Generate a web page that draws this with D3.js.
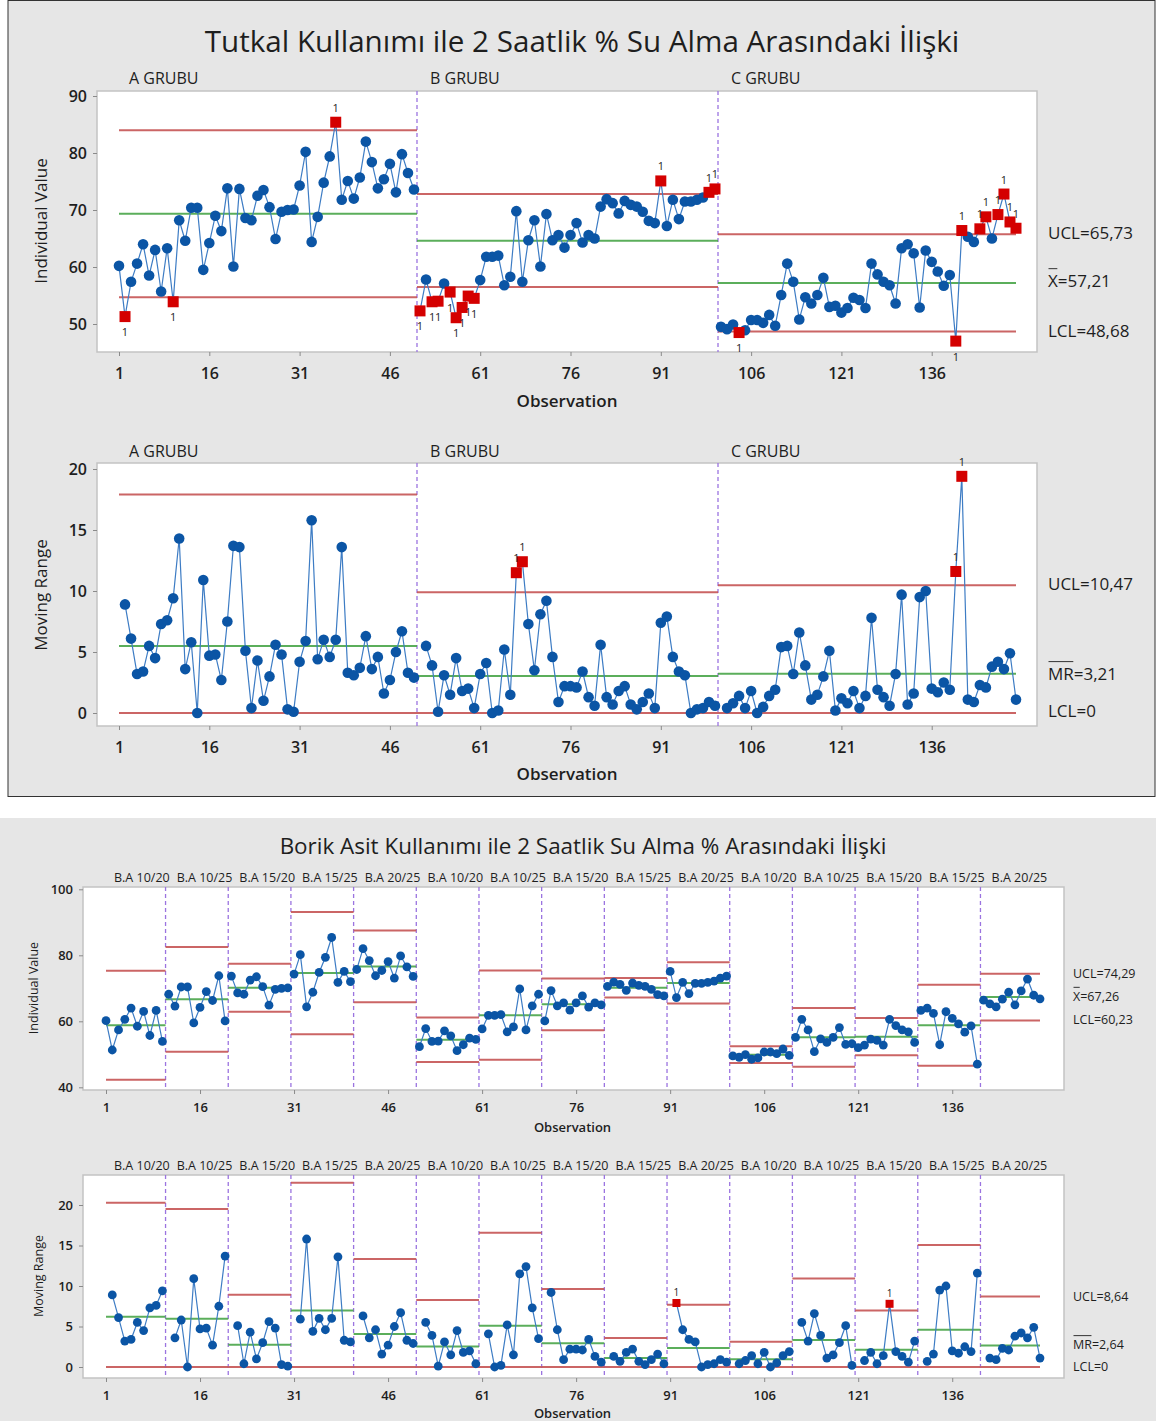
<!DOCTYPE html>
<html><head><meta charset="utf-8">
<script src="https://cdn.jsdelivr.net/npm/d3@7"></script>
<style>
body{margin:0;background:#fff}
svg{display:block}
text{font-family:"Open Sans","Noto Sans",sans-serif;fill:#1e1e1e}
</style>
</head><body>
<svg id="chart" width="1156" height="1421"></svg>
<script>
// ---------------- DATA ----------------
const individualValues = [
  60.2,51.3,57.4,60.6,64.0,58.5,63.0,55.7,63.3,53.9,
  68.2,64.6,70.4,70.4,59.5,64.2,69.0,66.3,73.8,60.1,
  73.7,68.6,68.2,72.5,73.5,70.5,64.9,69.7,70.0,70.1,
  74.3,80.2,64.4,68.8,74.8,79.4,85.4,71.8,75.1,72.0,
  75.7,82.0,78.4,73.8,75.4,78.1,73.1,79.8,76.5,73.6,
  52.3,57.8,53.9,54.0,57.1,55.6,51.1,52.9,54.9,54.5,
  57.7,61.8,61.8,62.0,56.8,58.3,69.8,57.4,64.7,68.2,
  60.1,69.3,64.7,65.6,63.4,65.6,67.7,64.3,65.6,65.0,
  70.6,71.9,71.2,69.4,71.6,70.9,70.6,69.7,68.1,67.7,
  75.1,67.2,71.8,68.4,71.5,71.5,71.8,72.2,73.1,73.7,
  49.5,49.1,49.9,48.5,48.9,50.7,50.7,50.2,51.6,49.7,
  55.1,60.6,57.4,50.8,54.7,53.6,55.1,58.1,53.0,53.2,
  52.0,52.8,54.6,54.2,52.8,60.6,58.7,57.4,56.8,53.6,
  63.3,64.0,62.4,52.9,62.9,60.9,59.2,56.7,58.6,47.0,
  66.4,65.3,64.4,66.7,68.8,65.0,69.2,72.8,67.9,66.8
];
const topTitle = "Tutkal Kullanımı ile 2 Saatlik % Su Alma Arasındaki İlişki";
const bottomTitle = "Borik Asit Kullanımı ile 2 Saatlik Su Alma % Arasındaki İlişki";
const topStageNames = ["A GRUBU","B GRUBU","C GRUBU"];
const topStageSize = 50;
const topUCL = [84.0, 72.8, 65.73];
const topCL  = [69.35, 64.6, 57.21];
const topLCL = [54.7, 56.5, 48.68];
const topMRUCL = [17.9, 9.9, 10.47];
const topMRCL  = [5.5, 3.03, 3.21];
const topMRLCL = [0, 0, 0];
const bottomStageNames = ["B.A 10/20","B.A 10/25","B.A 15/20","B.A 15/25","B.A 20/25",
                          "B.A 10/20","B.A 10/25","B.A 15/20","B.A 15/25","B.A 20/25",
                          "B.A 10/20","B.A 10/25","B.A 15/20","B.A 15/25","B.A 20/25"];
const bottomStageSize = 10;
const xTickValues = [1,16,31,46,61,76,91,106,121,136];
const topIYTicks = [50,60,70,80,90];
const topMRYTicks = [0,5,10,15,20];
const bottomIYTicks = [40,60,80,100];
const bottomMRYTicks = [0,5,10,15,20];
const topILabels  = [["UCL=65,73",65.73,0],["X=57,21",57.21,1],["LCL=48,68",48.68,0]];
const topMRLabels = [["UCL=10,47",10.47,0],["MR=3,21",3.21,2],["LCL=0",0,0]];
const bottomILabels  = [["UCL=74,29",74.29,0],["X=67,26",67.26,1],["LCL=60,23",60.23,0]];
const bottomMRLabels = [["UCL=8,64",8.64,0],["MR=2,64",2.64,2],["LCL=0",0,0]];

// ---------------- HELPERS ----------------
const svg = d3.select("#chart");
const FONT = '"Open Sans","Noto Sans",sans-serif';
const C = {bg:"#e6e6e6", dot:"#0b55a5", line:"#3d7cc4", red:"#d40000",
           lim:"#c65555", cen:"#4aa64a", stage:"#9b74e0", frame:"#c3c3c3"};

function movingRanges(vals, size){
  return vals.map((v,i)=> (i>0 && Math.floor(i/size)===Math.floor((i-1)/size)) ? Math.abs(v-vals[i-1]) : null);
}
function stageStats(vals, mrs, size){
  const n = vals.length/size, out = [];
  for(let s=0;s<n;s++){
    const v = vals.slice(s*size,(s+1)*size);
    const m = mrs.slice(s*size,(s+1)*size).filter(d=>d!==null);
    out.push({mean:d3.mean(v), mr:d3.mean(m)});
  }
  return out;
}
function txt(g,x,y,s,size,anchor="start",weight="normal"){
  return g.append("text").attr("x",x).attr("y",y).attr("font-size",size)
    .attr("text-anchor",anchor).attr("dominant-baseline","central")
    .attr("font-weight",weight).text(s);
}

function drawPanel(cfg){
  const g = svg.append("g");
  const {x0,x1,y0,y1,xs,ys,vals,size,names,ucl,cl,lcl} = cfg;
  const n = names.length;
  g.append("rect").attr("x",x0).attr("y",y0).attr("width",x1-x0).attr("height",y1-y0)
    .attr("fill","#fff").attr("stroke",C.frame).attr("stroke-width",1.5);
  // axes
  const ya = g.append("g").attr("transform",`translate(${x0},0)`)
    .call(d3.axisLeft(ys).tickValues(cfg.yTicks).tickSize(4).tickPadding(cfg.yPad).tickFormat(d3.format("d")));
  const xa = g.append("g").attr("transform",`translate(0,${y1})`)
    .call(d3.axisBottom(xs).tickValues(xTickValues).tickSize(4).tickPadding(cfg.xPad).tickFormat(d3.format("d")));
  [ya,xa].forEach(a=>{
    a.attr("font-family",FONT).attr("font-size",cfg.tickFont);
    a.select(".domain").remove();
    a.selectAll("line").attr("stroke","#8a8a8a");
    a.selectAll("text").attr("fill","#1e1e1e").attr("font-weight",cfg.tickWeight);
  });
  // stage dividers
  for(let s=1;s<n;s++){
    const x = xs(s*size+0.5);
    g.append("line").attr("x1",x).attr("x2",x).attr("y1",y0).attr("y2",y1)
      .attr("stroke",C.stage).attr("stroke-width",1.3).attr("stroke-dasharray","4,3");
  }
  // limit lines
  for(let s=0;s<n;s++){
    const xa1 = s===0 ? xs(1) : xs(s*size+0.5);
    const xb1 = s===n-1 ? xs(vals.length) : xs((s+1)*size+0.5);
    [[ucl[s],C.lim],[lcl[s],C.lim],[cl[s],C.cen]].forEach(([v,c])=>{
      g.append("line").attr("x1",xa1).attr("x2",xb1).attr("y1",ys(v)).attr("y2",ys(v))
        .attr("stroke",c).attr("stroke-width",cfg.limW).attr("opacity",0.9);
    });
  }
  // data
  const pts = vals.map((v,i)=>({i,obs:i+1,v,s:Math.floor(i/size)})).filter(d=>d.v!==null);
  pts.forEach(d=>{ d.out = d.v>ucl[d.s]+1e-9 || d.v<lcl[d.s]-1e-9; });
  const line = d3.line().x(d=>xs(d.obs)).y(d=>ys(d.v));
  for(let s=0;s<n;s++){
    const sp = pts.filter(d=>d.s===s);
    g.append("path").attr("d",line(sp)).attr("fill","none").attr("stroke",C.line).attr("stroke-width",1.2);
  }
  g.selectAll("circle.pt").data(pts.filter(d=>!d.out)).join("circle")
    .attr("cx",d=>xs(d.obs)).attr("cy",d=>ys(d.v)).attr("r",cfg.r).attr("fill",C.dot);
  const outs = pts.filter(d=>d.out);
  g.selectAll("rect.sq").data(outs).join("rect")
    .attr("x",d=>xs(d.obs)-cfg.sq/2).attr("y",d=>ys(d.v)-cfg.sq/2)
    .attr("width",cfg.sq).attr("height",cfg.sq).attr("fill",C.red);
  outs.forEach(d=>{
    const up = d.v>ucl[d.s];
    txt(g, xs(d.obs), ys(d.v) + (up ? -cfg.flagOff : cfg.flagOff), "1", cfg.flagFont, "middle").attr("fill","#333");
  });
  // stage labels
  for(let s=0;s<n;s++){
    txt(g, xs(s*size+1)+cfg.stageOff, y0-cfg.stageDy, names[s], cfg.stageFont, "start");
  }
  // axis titles
  txt(g, (x0+x1)/2 + cfg.obsDx, cfg.obsY, "Observation", cfg.obsFont, "middle", cfg.obsWeight);
  txt(g, 0, 0, cfg.yTitle, cfg.yTitleFont, "middle")
    .attr("transform",`translate(${cfg.yTitleX},${cfg.yTitleY}) rotate(-90)`);
  // right labels
  cfg.rightLabels.forEach(([t,v,bar])=>{
    const y = ys(v) + (cfg.labelDy[t.slice(0,1)]||0);
    const el = txt(g, x1+cfg.labelDx, y, t, cfg.labelFont, "start");
    if(bar){
      const w = el.node().getSubStringLength(0,bar);
      const by = y - cfg.labelFont*0.72;
      g.append("line").attr("x1",x1+cfg.labelDx+0.5).attr("x2",x1+cfg.labelDx+w-0.5)
        .attr("y1",by).attr("y2",by).attr("stroke","#333").attr("stroke-width",1);
    }
  });
}

// ---------------- BACKGROUND ----------------
svg.append("rect").attr("x",8).attr("y",0.5).attr("width",1147).attr("height",796)
  .attr("fill",C.bg).attr("stroke","#333").attr("stroke-width",1);
svg.append("rect").attr("x",0).attr("y",818).attr("width",1156).attr("height",603).attr("fill",C.bg);

// ---------------- TOP CHART ----------------
const tTitle = txt(svg, 582, 40, topTitle, 26, "middle");
(function fit(el,w){ const cw=el.node().getComputedTextLength(); el.attr("font-size",26*w/cw); })(tTitle,755);

const topMR = movingRanges(individualValues, topStageSize);
const xTop = d3.scaleLinear().domain([1,150]).range([119,1016]);

drawPanel({x0:97,x1:1037,y0:91,y1:352,xs:xTop,
  ys:d3.scaleLinear().domain([50,90]).range([324,96]),
  vals:individualValues,size:topStageSize,names:topStageNames,
  ucl:topUCL,cl:topCL,lcl:topLCL,yTicks:topIYTicks,
  tickFont:16,tickWeight:600,yPad:6,xPad:12,limW:2,r:5.3,sq:11,flagFont:11,flagOff:15,
  stageOff:10,stageDy:13,stageFont:16,obsDx:0,obsY:400,obsFont:17,obsWeight:600,
  yTitle:"Individual Value",yTitleFont:17,yTitleX:40,yTitleY:221,
  rightLabels:topILabels,labelDx:11,labelFont:17,labelDy:{U:-2,X:-2,L:-1}});

drawPanel({x0:97,x1:1037,y0:463,y1:726,xs:xTop,
  ys:d3.scaleLinear().domain([0,20]).range([713,469]),
  vals:topMR,size:topStageSize,names:topStageNames,
  ucl:topMRUCL,cl:topMRCL,lcl:topMRLCL,yTicks:topMRYTicks,
  tickFont:16,tickWeight:600,yPad:6,xPad:12,limW:2,r:5.3,sq:11,flagFont:11,flagOff:15,
  stageOff:10,stageDy:12,stageFont:16,obsDx:0,obsY:773,obsFont:17,obsWeight:600,
  yTitle:"Moving Range",yTitleFont:17,yTitleX:40,yTitleY:595,
  rightLabels:topMRLabels,labelDx:11,labelFont:17,labelDy:{U:-2,M:0,L:-3}});

// ---------------- BOTTOM CHART ----------------
const bTitle = txt(svg, 583, 845, bottomTitle, 21, "middle");
(function fit(el,w){ const cw=el.node().getComputedTextLength(); el.attr("font-size",21*w/cw); })(bTitle,607);

const botMR = movingRanges(individualValues, bottomStageSize);
const stats = stageStats(individualValues, botMR, bottomStageSize);
const botUCL = stats.map(d=>d.mean+2.66*d.mr), botCL = stats.map(d=>d.mean), botLCL = stats.map(d=>d.mean-2.66*d.mr);
const botMRUCL = stats.map(d=>3.267*d.mr), botMRCL = stats.map(d=>d.mr), botMRLCL = stats.map(()=>0);
const xBot = d3.scaleLinear().domain([1,150]).range([106,1040]);

drawPanel({x0:83,x1:1064,y0:887,y1:1090,xs:xBot,
  ys:d3.scaleLinear().domain([40,100]).range([1087.3,889.3]),
  vals:individualValues,size:bottomStageSize,names:bottomStageNames,
  ucl:botUCL,cl:botCL,lcl:botLCL,yTicks:bottomIYTicks,
  tickFont:13,tickWeight:600,yPad:6,xPad:9,limW:2,r:4.4,sq:8,flagFont:10,flagOff:11,
  stageOff:8,stageDy:10,stageFont:12.5,obsDx:-1,obsY:1127,obsFont:13,obsWeight:600,
  yTitle:"Individual Value",yTitleFont:12.5,yTitleX:33,yTitleY:988,
  rightLabels:bottomILabels,labelDx:9,labelFont:12.5,labelDy:{U:-1,X:-1,L:-1}});

drawPanel({x0:83,x1:1064,y0:1175,y1:1378,xs:xBot,
  ys:d3.scaleLinear().domain([0,20]).range([1367,1205]),
  vals:botMR,size:bottomStageSize,names:bottomStageNames,
  ucl:botMRUCL,cl:botMRCL,lcl:botMRLCL,yTicks:bottomMRYTicks,
  tickFont:13,tickWeight:600,yPad:6,xPad:9,limW:2,r:4.4,sq:8,flagFont:10,flagOff:11,
  stageOff:8,stageDy:10,stageFont:12.5,obsDx:-1,obsY:1413,obsFont:13,obsWeight:600,
  yTitle:"Moving Range",yTitleFont:12.5,yTitleX:38,yTitleY:1276,
  rightLabels:bottomMRLabels,labelDx:9,labelFont:12.5,labelDy:{U:-1,M:-1,L:-1}});
</script>
</body></html>
